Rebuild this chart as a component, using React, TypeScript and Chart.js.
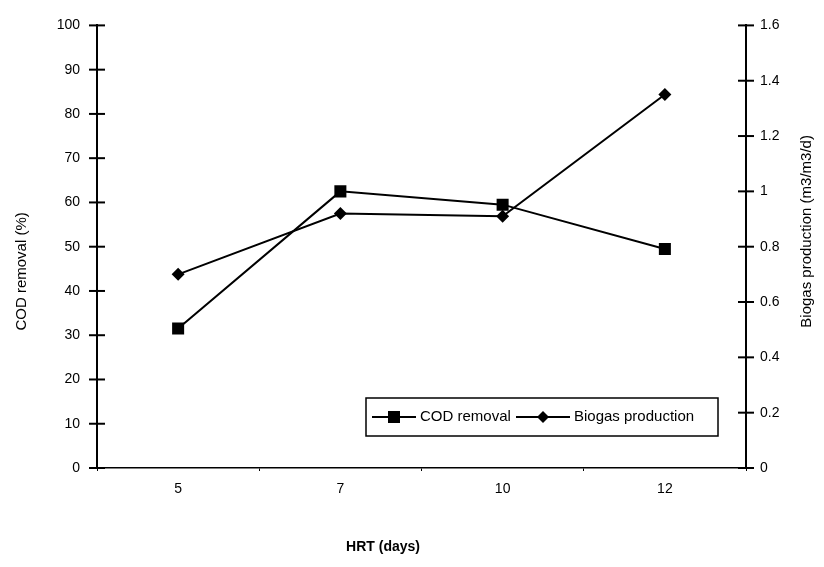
import React, { useEffect, useRef } from "react";
import { Chart, registerables } from "chart.js";

Chart.register(...registerables);

const categories = ["5", "7", "10", "12"];
const codRemoval = [31.5, 62.5, 59.5, 49.5];
const biogasProduction = [0.7, 0.92, 0.91, 1.35];
const leftTicks = [0, 10, 20, 30, 40, 50, 60, 70, 80, 90, 100];
const rightTicks = [0, 0.2, 0.4, 0.6, 0.8, 1, 1.2, 1.4, 1.6];

const FONT = "'Liberation Sans', Arial, sans-serif";

const crossTicks = {
  id: "crossTicks",
  afterDraw(chart: any) {
    const ctx = chart.ctx;
    ctx.save();
    ctx.strokeStyle = "#000";
    ctx.lineWidth = 2;
    const y = chart.scales.y;
    const y1 = chart.scales.y1;
    y.ticks.forEach((t: any) => {
      const py = y.getPixelForValue(t.value);
      ctx.beginPath();
      ctx.moveTo(y.right - 8, py);
      ctx.lineTo(y.right + 8, py);
      ctx.stroke();
    });
    y1.ticks.forEach((t: any) => {
      const py = y1.getPixelForValue(t.value);
      ctx.beginPath();
      ctx.moveTo(y1.left - 8, py);
      ctx.lineTo(y1.left + 8, py);
      ctx.stroke();
    });
    ctx.restore();
  },
};

const titlesAndLegend = {
  id: "titlesAndLegend",
  afterDraw(chart: any) {
    const ctx = chart.ctx;
    const a = chart.chartArea;
    ctx.save();
    ctx.fillStyle = "#000";
    ctx.textAlign = "center";
    ctx.textBaseline = "middle";

    // left title
    ctx.save();
    ctx.font = `15px ${FONT}`;
    ctx.translate(a.left - 75, a.top + 246);
    ctx.rotate(-Math.PI / 2);
    ctx.fillText("COD removal (%)", 0, 0);
    ctx.restore();

    // right title
    ctx.save();
    ctx.font = `15px ${FONT}`;
    ctx.translate(a.right + 61, a.top + 206);
    ctx.rotate(-Math.PI / 2);
    ctx.fillText("Biogas production (m3/m3/d)", 0, 0);
    ctx.restore();

    // x title
    ctx.font = `bold 14px ${FONT}`;
    ctx.fillText("HRT (days)", 383, a.bottom + 79);

    // legend box
    const bx = a.right - 380;
    const by = a.bottom - 70;
    const bw = 352;
    const bh = 38;
    ctx.fillStyle = "#fff";
    ctx.fillRect(bx, by, bw, bh);
    ctx.strokeStyle = "#000";
    ctx.lineWidth = 1.5;
    ctx.strokeRect(bx, by, bw, bh);
    const cy = by + bh / 2;
    ctx.lineWidth = 2;
    ctx.fillStyle = "#000";
    // COD sample
    ctx.beginPath();
    ctx.moveTo(bx + 6, cy);
    ctx.lineTo(bx + 50, cy);
    ctx.stroke();
    ctx.fillRect(bx + 28 - 6, cy - 6, 12, 12);
    ctx.textAlign = "left";
    ctx.font = `15px ${FONT}`;
    ctx.fillText("COD removal", bx + 54, cy);
    // Biogas sample
    ctx.beginPath();
    ctx.moveTo(bx + 150, cy);
    ctx.lineTo(bx + 204, cy);
    ctx.stroke();
    ctx.beginPath();
    ctx.moveTo(bx + 177 - 6, cy);
    ctx.lineTo(bx + 177, cy - 6);
    ctx.lineTo(bx + 177 + 6, cy);
    ctx.lineTo(bx + 177, cy + 6);
    ctx.closePath();
    ctx.fill();
    ctx.fillText("Biogas production", bx + 208, cy);
    ctx.restore();
  },
};

export default function App() {
  const ref = useRef<HTMLCanvasElement | null>(null);
  useEffect(() => {
    if (!ref.current) return;
    Chart.defaults.font.family = FONT;
    Chart.defaults.color = "#000";
    const chart = new Chart(ref.current, {
      type: "line",
      data: {
        labels: categories,
        datasets: [
          {
            label: "COD removal",
            data: codRemoval,
            yAxisID: "y",
            borderColor: "#000",
            backgroundColor: "#000",
            borderWidth: 2,
            pointStyle: "rect",
            pointRadius: 8.5,
            pointBorderWidth: 0,
            tension: 0,
          },
          {
            label: "Biogas production",
            data: biogasProduction,
            yAxisID: "y1",
            borderColor: "#000",
            backgroundColor: "#000",
            borderWidth: 2,
            pointStyle: "rectRot",
            pointRadius: 6.5,
            pointBorderWidth: 0,
            tension: 0,
          },
        ],
      },
      options: {
        animation: false,
        responsive: true,
        maintainAspectRatio: false,
        layout: { padding: { top: 22, left: 0, right: 0, bottom: 0 } },
        plugins: { legend: { display: false }, tooltip: { enabled: false } },
        scales: {
          x: {
            type: "category",
            offset: true,
            grid: { drawOnChartArea: false, offset: true, tickLength: 3, color: "#000", lineWidth: 1 },
            border: { color: "#000", width: 1.5 },
            ticks: { font: { size: 14 }, color: "#000", padding: 10 },
            afterFit: (s: any) => {
              s.height = 99;
            },
          },
          y: {
            position: "left",
            min: 0,
            max: 100,
            afterBuildTicks: (s: any) => {
              s.ticks = leftTicks.map((v) => ({ value: v }));
            },
            grid: { drawOnChartArea: false, drawTicks: false },
            border: { color: "#000", width: 2 },
            ticks: { font: { size: 14 }, color: "#000", padding: 17 },
            afterFit: (s: any) => {
              s.width = 97;
            },
          },
          y1: {
            position: "right",
            min: 0,
            max: 1.6,
            afterBuildTicks: (s: any) => {
              s.ticks = rightTicks.map((v) => ({ value: v }));
            },
            grid: { drawOnChartArea: false, drawTicks: false },
            border: { color: "#000", width: 2 },
            ticks: {
              font: { size: 14 },
              color: "#000",
              padding: 14,
              callback: (v: any) => String(Math.round(Number(v) * 10) / 10),
            },
            afterFit: (s: any) => {
              s.width = 78;
            },
          },
        },
      },
      plugins: [crossTicks, titlesAndLegend],
    });
    return () => chart.destroy();
  }, []);
  return (
    <div style={{ position: "absolute", left: 0, top: 0, width: 824, height: 567, background: "#fff" }}>
      <canvas ref={ref} />
    </div>
  );
}
